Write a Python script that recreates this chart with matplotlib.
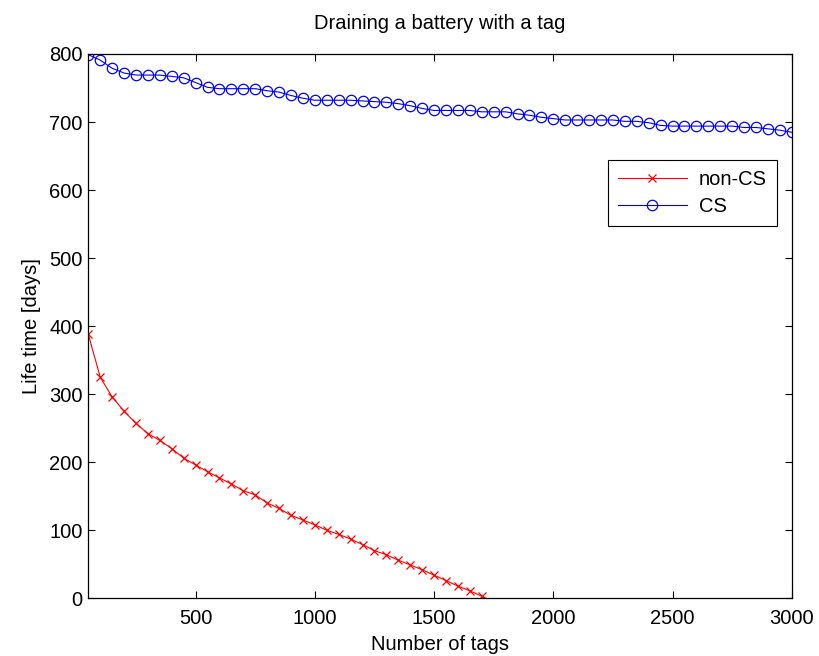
import numpy as np
import matplotlib
matplotlib.use("Agg")
import matplotlib.pyplot as plt

plt.rcParams["font.family"] = ["Liberation Sans", "DejaVu Sans"]
plt.rcParams["font.size"] = 14.5

# Number of tags (one sample every 50 tags)
tags = np.arange(50, 3001, 50)

# Life time [days] with CS
cs_life = [799, 791, 779, 772, 769, 769, 769, 767, 765, 758,
           751, 749, 749, 749, 749, 746, 744, 739, 735, 732,
           732, 732, 732, 731, 730, 729, 727, 724, 720, 717,
           717, 717, 717, 715, 715, 715, 712, 710, 707, 705,
           703, 703, 703, 703, 703, 701, 701, 699, 695, 694,
           694, 694, 694, 694, 694, 692, 692, 690, 688, 685]

# Life time [days] without CS (goes below zero after ~1700 tags)
noncs_tags = np.arange(50, 1751, 50)
noncs_life = [388, 325, 296, 275, 257, 242, 232, 220, 206, 196,
              186, 177, 168, 158, 152, 140, 132, 122, 115, 108,
              100, 94, 87, 79, 70, 64, 56, 49, 42, 34,
              26, 18, 11, 3, -5]

fig = plt.figure(figsize=(8.19, 6.56), dpi=100)
ax = fig.add_axes([0.1078, 0.088, 0.8589, 0.8297])

ax.plot(noncs_tags, noncs_life, color="red", lw=0.8, marker="x",
        markersize=6, markeredgewidth=0.9, label="non-CS")
ax.plot(tags, cs_life, color="blue", lw=0.8, marker="o",
        markersize=7.5, markerfacecolor="none", markeredgewidth=0.9, label="CS")

ax.set_xlim(50, 3000)
ax.set_ylim(0, 800)
ax.set_xticks([500, 1000, 1500, 2000, 2500, 3000])
ax.set_yticks(np.arange(0, 801, 100))
ax.tick_params(direction="in", top=True, right=True, length=5, width=0.8)
ax.tick_params(axis="x", pad=8)
ax.tick_params(axis="y", pad=4)
for s in ax.spines.values():
    s.set_linewidth(0.9)

ax.set_title("Draining a battery with a tag", fontsize=14.5, pad=18)
ax.set_xlabel("Number of tags", labelpad=5)
ax.set_ylabel("Life time [days]", labelpad=6)

leg = ax.legend(loc="upper left", bbox_to_anchor=(0.739, 0.805), borderaxespad=0,
                fancybox=False, edgecolor="black", framealpha=1, numpoints=1,
                handlelength=3.4, handletextpad=0.6, borderpad=0.5,
                labelspacing=0.4, fontsize=14.5)
leg.get_frame().set_linewidth(0.8)

fig.savefig("out.png", dpi=100)
